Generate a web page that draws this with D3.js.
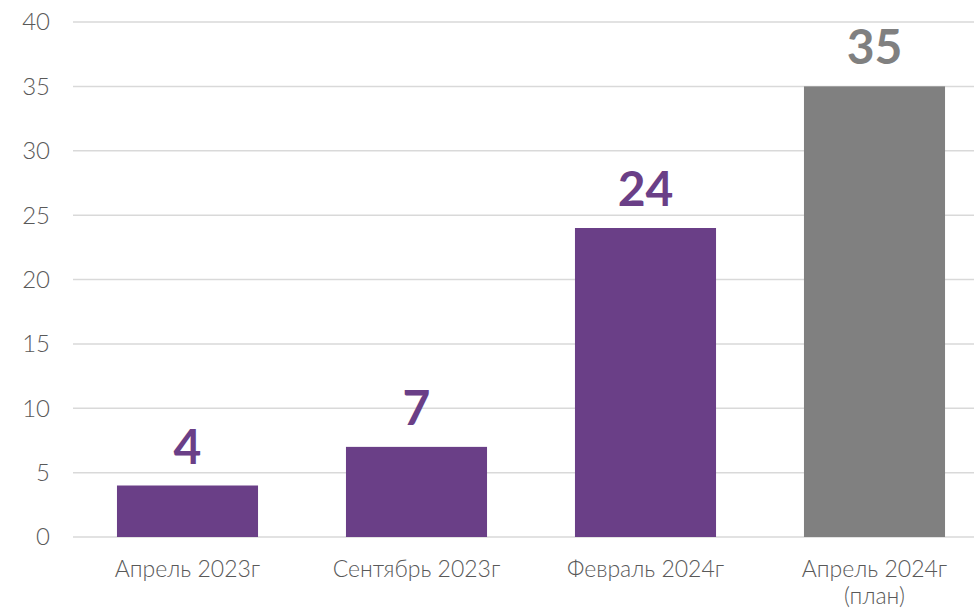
<!DOCTYPE html>
<html>
<head>
<meta charset="utf-8">
<script src="https://cdn.jsdelivr.net/npm/d3@7"></script>
<style>
  body { margin: 0; background: #fff; }
  svg { display: block; font-family: Lato, "Open Sans", sans-serif; }
</style>
</head>
<body>
<svg id="chart"></svg>
<script>
// data
const categories = ["Апрель 2023г", "Сентябрь 2023г", "Февраль 2024г", "Апрель 2024г"];
const subLabels = ["", "", "", "(план)"];
const values = [4, 7, 24, 35];
const isPlan = [false, false, false, true];
const yTicks = [0, 5, 10, 15, 20, 25, 30, 35, 40];

const width = 974, height = 609;
const margin = {top: 22, left: 73, bottom: 72};

const svg = d3.select("#chart").attr("width", width).attr("height", height);

const x = d3.scaleBand()
    .domain(categories)
    .range([margin.left, 989])
    .paddingInner(0.384)
    .paddingOuter(0.192);

const y = d3.scaleLinear()
    .domain([0, 40])
    .range([537, margin.top]);

// gridlines
svg.append("g")
    .selectAll("line")
    .data(yTicks)
    .join("line")
    .attr("x1", margin.left)
    .attr("x2", width)
    .attr("y1", d => y(d))
    .attr("y2", d => y(d))
    .attr("stroke", "#d9d9d9")
    .attr("stroke-width", 1.5);

// y tick labels
svg.append("g")
    .selectAll("text")
    .data(yTicks)
    .join("text")
    .attr("x", 50)
    .attr("y", d => y(d))
    .attr("dy", "0.35em")
    .attr("text-anchor", "end")
    .attr("fill", "#595959")
    .style("font-size", "24px")
    .style("font-weight", 300)
    .text(d => d);

// bars
svg.append("g")
    .selectAll("rect")
    .data(values)
    .join("rect")
    .attr("x", (d, i) => x(categories[i]))
    .attr("width", x.bandwidth())
    .attr("y", d => y(d))
    .attr("height", d => y(0) - y(d))
    .attr("fill", (d, i) => isPlan[i] ? "#808080" : "#6a3f87");

// value labels
svg.append("g")
    .selectAll("text")
    .data(values)
    .join("text")
    .attr("x", (d, i) => x(categories[i]) + x.bandwidth() / 2)
    .attr("y", d => y(d) - 22)
    .attr("text-anchor", "middle")
    .attr("fill", (d, i) => isPlan[i] ? "#808080" : "#6a3f87")
    .style("font-size", "48px")
    .style("font-weight", "bold")
    .text(d => d);

// category labels
const cat = svg.append("g")
    .selectAll("text")
    .data(categories)
    .join("text")
    .attr("x", d => x(d) + x.bandwidth() / 2)
    .attr("y", 577)
    .attr("text-anchor", "middle")
    .attr("fill", "#595959")
    .style("font-size", "23px")
    .style("font-weight", 300);
cat.append("tspan").text(d => d);
cat.append("tspan")
    .attr("x", d => x(d) + x.bandwidth() / 2)
    .attr("dy", 27)
    .text((d, i) => subLabels[i]);
</script>
</body>
</html>
